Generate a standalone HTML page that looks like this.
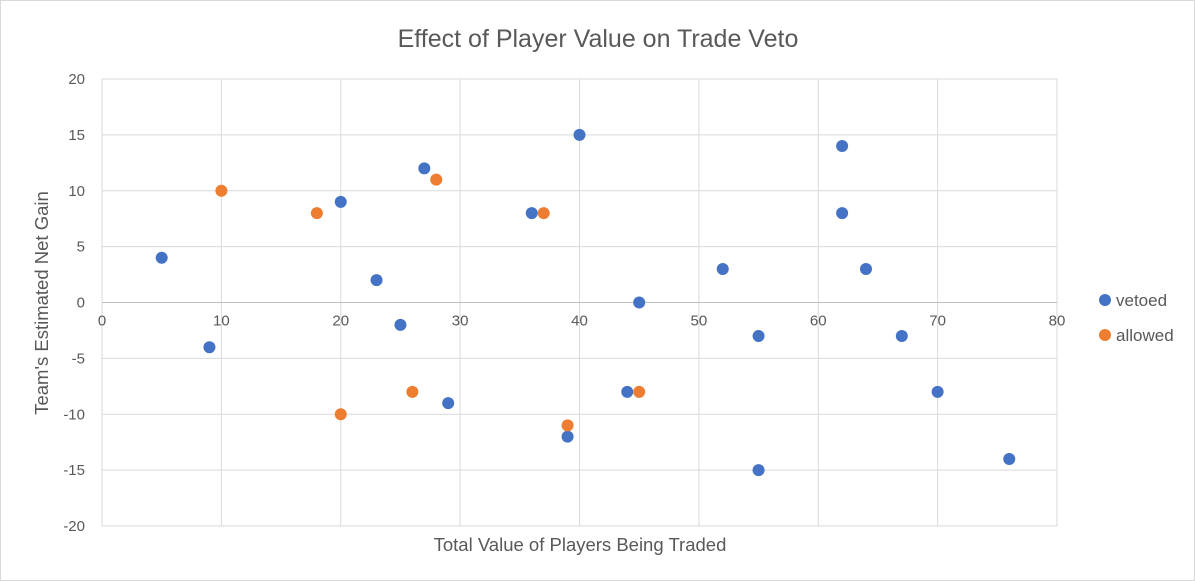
<!DOCTYPE html>
<html><head><meta charset="utf-8"><style>
body{margin:0;background:#fff;}
svg{display:block;font-family:"Liberation Sans",sans-serif;}
</style></head><body>
<svg id="chart" width="1195" height="581">
<rect x="0.5" y="0.5" width="1194" height="580" fill="#fff" stroke="#d9d9d9"/>
<text x="598" y="47" text-anchor="middle" font-size="25" fill="#595959">Effect of Player Value on Trade Veto</text>
<text x="580" y="551" text-anchor="middle" font-size="18.5" fill="#595959">Total Value of Players Being Traded</text>
<text transform="translate(48,303) rotate(-90)" text-anchor="middle" font-size="18.5" fill="#595959">Team's Estimated Net Gain</text>
<g id="grid"></g><g id="marks"></g>
<circle cx="1105" cy="300" r="6" fill="#4472c4"/>
<text x="1116" y="306" font-size="17" fill="#595959">vetoed</text>
<circle cx="1105" cy="335" r="6" fill="#ed7d31"/>
<text x="1116" y="341" font-size="17" fill="#595959">allowed</text>
</svg>
<script>
const xTicks=[0,10,20,30,40,50,60,70,80];
const yTicks=[20,15,10,5,0,-5,-10,-15,-20];
const vetoedX=[5,9,20,23,25,27,29,36,39,40,44,45,52,55,55,62,62,64,67,70,76];
const vetoedY=[4,-4,9,2,-2,12,-9,8,-12,15,-8,0,3,-3,-15,14,8,3,-3,-8,-14];
const allowedX=[10,18,20,26,28,37,39,45];
const allowedY=[10,8,-10,-8,11,8,-11,-8];
const NS="http://www.w3.org/2000/svg";
const X0=102,X1=1057,Y0=526,Y1=79,xMin=0,xMax=80,yMin=-20,yMax=20;
const sx=v=>X0+(v-xMin)/(xMax-xMin)*(X1-X0);
const sy=v=>Y0-(v-yMin)/(yMax-yMin)*(Y0-Y1);
const grid=document.getElementById('grid'),marks=document.getElementById('marks');
function mk(tag,attrs,parent){const e=document.createElementNS(NS,tag);for(const k in attrs)e.setAttribute(k,attrs[k]);parent.appendChild(e);return e;}
xTicks.forEach(t=>{
  const l=mk('line',{x1:sx(t),x2:sx(t),y1:Y1,y2:Y0,stroke:'#d9d9d9','stroke-width':1},grid);
  
  
  const tx=mk('text',{x:sx(t),y:sy(0)+23,'text-anchor':'middle','font-size':15,fill:'#595959'},grid);
  tx.textContent=t;
  
  
});
yTicks.forEach(t=>{
  const l=mk('line',{x1:X0,x2:X1,y1:sy(t),y2:sy(t),stroke:t===0?'#bfbfbf':'#d9d9d9','stroke-width':1},grid);
  
  
  const tx=mk('text',{x:85,y:sy(t)+5,'text-anchor':'end','font-size':15,fill:'#595959'},grid);
  tx.textContent=t;
  
  
});
vetoedX.forEach((v,i)=>{
  const c=mk('circle',{cx:sx(v),cy:sy(vetoedY[i]),r:6,fill:'#4472c4'},marks);
  
  
});
allowedX.forEach((v,i)=>{
  const c=mk('circle',{cx:sx(v),cy:sy(allowedY[i]),r:6,fill:'#ed7d31'},marks);
  
  
});
</script>
</body></html>
